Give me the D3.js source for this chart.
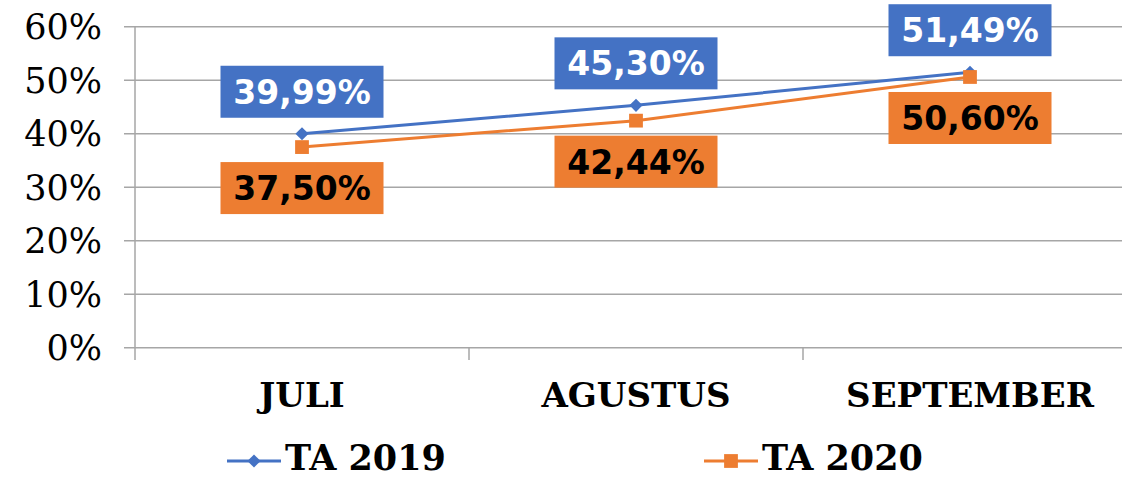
<!DOCTYPE html>
<html>
<head>
<meta charset="utf-8">
<script src="https://cdn.jsdelivr.net/npm/d3@7"></script>
<style>
  body { margin: 0; background: #fff; }
  svg { display: block; }
</style>
</head>
<body>
<div id="chart"></div>
<script>
// Data
const months = ["JULI", "AGUSTUS", "SEPTEMBER"];
const ta2019 = [0.3999, 0.4530, 0.5149];
const ta2020 = [0.3750, 0.4244, 0.5060];
const seriesNames = ["TA 2019", "TA 2020"];
const yTicks = [0, 0.1, 0.2, 0.3, 0.4, 0.5, 0.6];

const width = 1122, height = 478;
const blue = "#4472C4", orange = "#ED7D31", gridColor = "#a6a6a6";

const svg = d3.select("#chart").append("svg")
    .attr("width", width)
    .attr("height", height);

const x = d3.scaleBand().domain(months).range([135, 1137]);
const y = d3.scaleLinear().domain([0, 0.6]).range([347.7, 26.7]);

const pct = v => d3.format(".2f")(v * 100).replace(".", ",") + "%";

// Gridlines
svg.append("g").selectAll("line")
    .data(yTicks)
    .join("line")
        .attr("x1", 124).attr("x2", width)
        .attr("y1", d => y(d)).attr("y2", d => y(d))
        .attr("stroke", gridColor)
        .attr("stroke-width", 1.5);

// Vertical axis line and category tick marks
svg.append("line")
    .attr("x1", 135).attr("x2", 135)
    .attr("y1", y(0.6)).attr("y2", 360)
    .attr("stroke", gridColor).attr("stroke-width", 1.5);

svg.append("g").selectAll("line")
    .data(months.slice(1))
    .join("line")
        .attr("x1", d => x(d)).attr("x2", d => x(d))
        .attr("y1", y(0)).attr("y2", 360)
        .attr("stroke", gridColor).attr("stroke-width", 1.5);

// Y tick labels
svg.append("g").selectAll("text")
    .data(yTicks)
    .join("text")
        .attr("x", 102)
        .attr("y", d => y(d))
        .attr("dy", "0.36em")
        .attr("text-anchor", "end")
        .style("font-family", "DejaVu Serif")
        .style("font-size", "35px")
        .text(d => d3.format(".0%")(d));

// Category labels
svg.append("g").selectAll("text")
    .data(months)
    .join("text")
        .attr("x", d => x(d) + x.bandwidth() / 2)
        .attr("y", 407)
        .attr("text-anchor", "middle")
        .style("font-family", "DejaVu Serif")
        .style("font-weight", "bold")
        .style("font-size", "34px")
        .text(d => d);

// Lines
const line = d3.line()
    .x((d, i) => x(months[i]) + x.bandwidth() / 2)
    .y(d => y(d));

const series = [
    { name: seriesNames[0], values: ta2019, color: blue, marker: d3.symbolDiamond2, size: 110 },
    { name: seriesNames[1], values: ta2020, color: orange, marker: d3.symbolSquare, size: 190 }
];

series.forEach(s => {
    svg.append("path")
        .datum(s.values)
        .attr("d", line)
        .attr("fill", "none")
        .attr("stroke", s.color)
        .attr("stroke-width", 3);

    svg.append("g").selectAll("path")
        .data(s.values)
        .join("path")
            .attr("transform", (d, i) => `translate(${x(months[i]) + x.bandwidth() / 2},${y(d)})`)
            .attr("d", d3.symbol().type(s.marker).size(s.size))
            .attr("fill", s.color);
});

// Data labels
const boxW = 163, boxH = 52;
function drawLabels(values, color, textColor, above) {
    const g = svg.append("g").selectAll("g")
        .data(values)
        .join("g")
            .attr("transform", (d, i) => {
                const cx = x(months[i]) + x.bandwidth() / 2;
                const top = above ? y(d) - 16 - boxH : y(d) + 15;
                return `translate(${cx},${top})`;
            });
    g.append("rect")
        .attr("x", -boxW / 2).attr("y", 0)
        .attr("width", boxW).attr("height", boxH)
        .attr("fill", color);
    g.append("text")
        .attr("x", 0).attr("y", boxH / 2)
        .attr("dy", "0.36em")
        .attr("text-anchor", "middle")
        .style("font-family", "DejaVu Sans")
        .style("font-weight", "bold")
        .style("font-size", "33px")
        .attr("fill", textColor)
        .text(d => pct(d));
}
drawLabels(ta2019, blue, "#fff", true);
drawLabels(ta2020, orange, "#000", false);

// Legend
const legendX = [227, 704];
const legend = svg.append("g").selectAll("g")
    .data(series)
    .join("g")
        .attr("transform", (d, i) => `translate(${legendX[i]},461)`);
legend.append("line")
    .attr("x1", 0).attr("x2", 54)
    .attr("stroke", d => d.color)
    .attr("stroke-width", 3);
legend.append("path")
    .attr("transform", "translate(27,0)")
    .attr("d", d => d3.symbol().type(d.marker).size(d.size)())
    .attr("fill", d => d.color);
legend.append("text")
    .attr("x", 58)
    .attr("y", 9)
    .style("font-family", "DejaVu Serif")
    .style("font-weight", "bold")
    .style("font-size", "35px")
    .text(d => d.name);
</script>
</body>
</html>
